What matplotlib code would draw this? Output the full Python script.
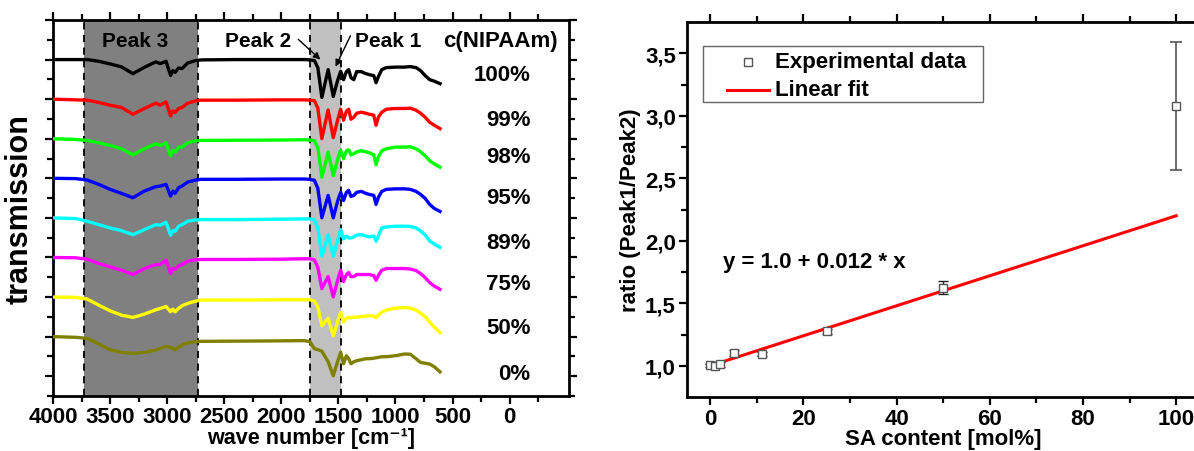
import matplotlib
matplotlib.use('Agg')
import matplotlib.pyplot as plt
from matplotlib.ticker import FixedLocator, FuncFormatter
from matplotlib.patches import Rectangle
from matplotlib.lines import Line2D

plt.rcParams['font.family'] = ['Liberation Sans', 'DejaVu Sans']
plt.rcParams['font.weight'] = 'bold'

# ---------------- data: FTIR spectra ----------------
wavenumber = [4000, 3800, 3700, 3600, 3500, 3400, 3300, 3200, 3100, 3060, 3010, 2970,
              2950, 2930, 2900, 2870, 2820, 2750, 2700, 2400, 2000, 1800, 1750, 1710,
              1680, 1645, 1590, 1545, 1505, 1480, 1455, 1430, 1410, 1390, 1365, 1340,
              1300, 1260, 1230, 1190, 1170, 1150, 1120, 1080, 1000, 920, 870, 820, 780,
              740, 700, 660, 610]

# absorption depth below each curve's baseline (a.u.)
depth_100 = [0, 0, 0, 1.7, 4.3, 7.3, 14, 7.7, 2.3, 4, 1.7, 15.7, 11, 12.7, 8.3, 9, 3.3, 1, 0.3,
             0, 0, 0,
             0.3, 1, 8, 37.7, 10, 36.7, 20, 11.7, 20, 12, 10, 18, 20, 12, 12, 14, 15, 16, 23, 17,
             10, 8, 7.5, 7.5, 7, 8, 11, 16, 20, 21.5, 24]
depth_99 = [0, 0.7, 1, 3.3, 6, 8.3, 15, 9.3, 4, 6, 2.7, 16.7, 11.7, 13.3, 9.3, 8.3, 4, 1.7, 1,
            1, 0.7, 0.7,
            1, 1.5, 9, 39.3, 10.7, 38.3, 20, 10, 21, 12, 10, 20, 18, 14, 13, 14, 15, 16, 26, 18,
            13, 10, 9.3, 9.3, 9, 11, 14, 18, 23, 26, 29.3]
depth_98 = [0, 0.7, 1.7, 4, 6.7, 10, 16, 10, 5, 6.7, 4, 17.3, 11.7, 13.3, 8.3, 8.3, 4, 2, 1.7,
            1.5, 1.3, 1,
            1.3, 2, 9, 38.3, 13.3, 36.7, 20, 11.7, 20, 12, 11, 16, 15, 13, 12, 13, 14, 16, 26, 18,
            12, 10, 8.3, 8.3, 8, 10, 13, 17, 22, 25, 28.3]
depth_95 = [0, 0.3, 1.7, 6, 11, 15, 19.3, 12.7, 8.3, 7.7, 6, 17.7, 12.7, 15, 9.3, 7.7, 3.7, 1.7, 1,
            1, 0.7, 0.7,
            1, 2, 10, 39.3, 17, 39.3, 22, 14, 22, 14, 12, 18, 17, 14, 13, 15, 16, 17, 26, 19,
            13, 11, 10.5, 10.5, 11, 13, 16, 20, 26, 30, 33]
depth_89 = [0, 0.7, 3.3, 6.7, 10, 12.7, 16.7, 11.7, 6.7, 7.3, 4.3, 17.3, 12.7, 13.3, 8.3, 6.7, 3.3, 2, 1.7,
            1.7, 1.3, 1,
            1, 2, 10, 38.3, 16.7, 38.3, 22, 11.7, 21, 18, 20, 20, 19, 17, 16.7, 18, 19, 18, 23.3, 18,
            10, 9, 8.3, 8.3, 8.5, 10, 13, 17, 23, 26, 29.3]
depth_75 = [0, 0.3, 1.7, 6, 9.3, 12.7, 17, 11, 7, 7, 2.7, 16, 11, 11.7, 8.3, 7, 3.7, 2.3, 2,
            2, 1.7, 1.3,
            1.3, 2.5, 10, 31, 19, 39.3, 22, 12.7, 24, 17, 15, 19, 19, 17, 17, 17, 17, 18, 22.7, 18,
            12.7, 11, 11, 11, 11.5, 13, 16, 20, 25, 28.5, 31.7]
depth_50 = [0, 0.3, 2, 8, 13.7, 18, 20.3, 17, 12.7, 11.3, 9.3, 14.7, 12, 14.7, 11.3, 8.7, 6.3, 4, 3,
            3, 2.7, 2.7,
            2.7, 4, 10, 28.7, 21, 38.7, 24, 15.3, 25, 21, 20, 21, 20, 20, 19.5, 19, 18.7, 19, 20.5, 18,
            15, 13, 11, 10.5, 11, 13, 16, 19.5, 25, 30, 35.3]
depth_0 = [0, 0.7, 1.7, 7.3, 13, 15.7, 16.7, 15.7, 13.3, 11.7, 9.7, 10.7, 11.7, 13, 10.7, 8.3, 6.3, 5, 4.7,
           4.5, 4.2, 4,
           5, 12, 13, 14.5, 25, 39, 24, 15.7, 27, 19, 22, 27, 25, 24, 23, 22, 22, 21.5, 21, 20.7,
           20, 20, 19, 17.3, 17.5, 22, 25.7, 26.5, 27.3, 30, 35]

spectra = [depth_100, depth_99, depth_98, depth_95, depth_89, depth_75, depth_50, depth_0]
conc_labels = ['100%', '99%', '98%', '95%', '89%', '75%', '50%', '0%']
colors = ['#000000', '#ff0000', '#00ff00', '#0000ff', '#00ffff', '#ff00ff', '#ffff00', '#808000']
baselines = [8, 7, 6, 5, 4, 3, 2, 1]
label_y = [7.62, 6.49, 5.54, 4.52, 3.37, 2.34, 1.24, 0.06]
depth_per_offset = 39.4

peak3_band = (3730, 2730)
peak12_band = (1750, 1475)

# ---------------- data: ratio vs SA content ----------------
sa_content = [0, 1, 2, 5, 11, 25, 50, 100]
ratio = [1.003, 0.995, 1.014, 1.10, 1.094, 1.275, 1.625, 3.078]
ratio_err = [0.015, 0.015, 0.02, 0.025, 0.015, 0.02, 0.05, 0.51]
fit_intercept = 1.0
fit_slope = 0.012
fit_x = [0, 100]

FS = 16

# ---------------- figure ----------------
W, H = 1194, 452
fig = plt.figure(figsize=(W / 100, H / 100), dpi=100)

ax1 = fig.add_axes([53 / W, 1 - 397 / H, (569 - 53) / W, (397 - 21) / H])
ax1.set_xlim(4000, -520)
ax1.set_ylim(-0.5, 9)

ax1.axvspan(*peak3_band, color='#808080', zorder=0, lw=0)
ax1.axvspan(*peak12_band, color='#c0c0c0', zorder=0, lw=0)
for xv in list(peak3_band) + list(peak12_band):
    ax1.axvline(xv, color='k', ls=(0, (4, 3)), lw=1.3, zorder=1)

for depth, col, base in zip(spectra, colors, baselines):
    y = [base - d / depth_per_offset for d in depth]
    ax1.plot(wavenumber, y, color=col, lw=2.4, zorder=3, solid_joinstyle='round')

for lab, ly in zip(conc_labels, label_y):
    ax1.text(-183, ly, lab, ha='right', va='center', fontsize=FS, fontweight='bold')

ax1.text(3280, 8.48, 'Peak 3', ha='center', va='center', fontsize=15, fontweight='bold')
ax1.text(2202, 8.48, 'Peak 2', ha='center', va='center', fontsize=15, fontweight='bold')
ax1.text(1062, 8.48, 'Peak 1', ha='center', va='center', fontsize=15, fontweight='bold')
ax1.text(80, 8.48, 'c(NIPAAm)', ha='center', va='center', fontsize=FS, fontweight='bold')
ax1.annotate('', xy=(1658, 8.0), xytext=(1851, 8.51),
             arrowprops=dict(arrowstyle='-|>', lw=1.0, color='k', mutation_scale=10, shrinkA=0, shrinkB=0))
ax1.annotate('', xy=(1525, 7.82), xytext=(1395, 8.6),
             arrowprops=dict(arrowstyle='-|>', lw=1.0, color='k', mutation_scale=10, shrinkA=0, shrinkB=0))

ax1.xaxis.set_major_locator(FixedLocator([4000, 3500, 3000, 2500, 2000, 1500, 1000, 500, 0]))
ax1.xaxis.set_minor_locator(FixedLocator([3750, 3250, 2750, 2250, 1750, 1250, 750, 250, -250]))
ax1.yaxis.set_major_locator(FixedLocator(list(range(0, 10))))
ax1.yaxis.set_minor_locator(FixedLocator([i + 0.5 for i in range(-1, 9)]))
ax1.tick_params(which='both', direction='out', top=True, right=True, width=1.6)
ax1.tick_params(which='major', length=6)
ax1.tick_params(which='minor', length=4)
ax1.tick_params(axis='x', labelsize=FS, pad=1.5)
ax1.tick_params(axis='y', labelleft=False)
for lab in ax1.get_xticklabels():
    lab.set_fontweight('bold')
for sp in ax1.spines.values():
    sp.set_linewidth(2.0)
ax1.set_xlabel('wave number [cm\u207b\u00b9]', fontsize=15.5, fontweight='bold', labelpad=0)
ax1.set_ylabel('transmission', fontsize=22, fontweight='bold', labelpad=6)

# ---------------- right panel ----------------
ax2 = fig.add_axes([687 / W, 1 - 398 / H, (1199.5 - 687) / W, (398 - 23) / H])
ax2.set_xlim(-5, 105)
ax2.set_ylim(0.75, 3.75)

fit_y = [fit_intercept + fit_slope * xv for xv in fit_x]
ax2.errorbar(sa_content[:-1], ratio[:-1], yerr=ratio_err[:-1], fmt='none', ecolor='#222222',
             elinewidth=1.0, capsize=3.5, capthick=1.0, zorder=2)
ax2.errorbar(sa_content[-1:], ratio[-1:], yerr=ratio_err[-1:], fmt='none', ecolor='#555555',
             elinewidth=1.2, capsize=4.5, capthick=1.2, zorder=2)
ax2.plot(fit_x, fit_y, color='#ff0000', lw=2.2, zorder=3)
ax2.plot(sa_content, ratio, 's', ms=5.5, mfc='white', mec='#555555', mew=1.0, zorder=4, ls='none')

# legend box drawn in figure pixel space
def fx(px):
    return px / W

def fy(py):
    return 1 - py / H

fig.patches.append(Rectangle((fx(703), fy(103)), fx(983) - fx(703), fy(47) - fy(103),
                             transform=fig.transFigure, facecolor='white', edgecolor='#666666',
                             lw=1.0, zorder=5))
fig.lines.append(Line2D([fx(748)], [fy(63)], marker='s', ms=5.5, mfc='white', mec='#555555', mew=1.0,
                        ls='none', transform=fig.transFigure, zorder=6))
fig.lines.append(Line2D([fx(727), fx(769)], [fy(91), fy(91)], color='#ff0000', lw=2.2,
                        transform=fig.transFigure, zorder=6))
fig.text(fx(775), fy(63), 'Experimental data', ha='left', va='center', fontsize=FS, fontweight='bold', zorder=6)
fig.text(fx(775), fy(91), 'Linear fit', ha='left', va='center', fontsize=FS, fontweight='bold', zorder=6)

ax2.text(2.8, 1.836, 'y = 1.0 + 0.012 * x', ha='left', va='center', fontsize=FS, fontweight='bold')

ax2.xaxis.set_major_locator(FixedLocator([0, 20, 40, 60, 80, 100]))
ax2.xaxis.set_minor_locator(FixedLocator([10, 30, 50, 70, 90]))
ax2.yaxis.set_major_locator(FixedLocator([1.0, 1.5, 2.0, 2.5, 3.0, 3.5]))
ax2.yaxis.set_minor_locator(FixedLocator([1.25, 1.75, 2.25, 2.75, 3.25]))
ax2.yaxis.set_major_formatter(FuncFormatter(lambda v, p: f'{v:.1f}'.replace('.', ',')))
ax2.tick_params(which='both', direction='out', top=True, right=False, width=1.6)
ax2.tick_params(which='major', length=6)
ax2.tick_params(which='minor', length=4)
ax2.tick_params(labelsize=FS, pad=2)
for lab in ax2.get_xticklabels() + ax2.get_yticklabels():
    lab.set_fontweight('bold')
for sp in ax2.spines.values():
    sp.set_linewidth(2.0)
ax2.set_xlabel('SA content [mol%]', fontsize=FS, fontweight='bold', labelpad=-1)
ax2.set_ylabel('ratio (Peak1/Peak2)', fontsize=FS, fontweight='bold', labelpad=3)

fig.savefig('out.png', dpi=100)
